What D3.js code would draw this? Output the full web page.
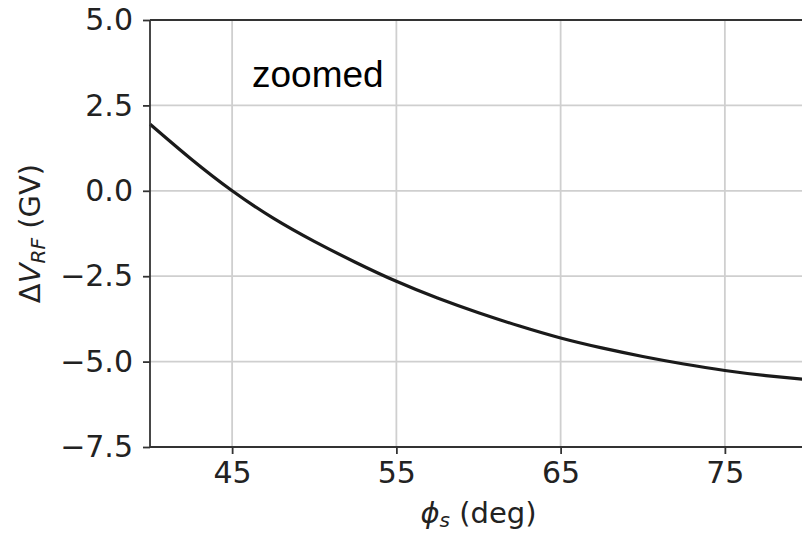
<!DOCTYPE html>
<html>
<head>
<meta charset="utf-8">
<script src="https://cdn.jsdelivr.net/npm/d3@7"></script>
<style>
  html, body { margin: 0; padding: 0; background: #fff; overflow: hidden; }
  svg { display: block; }
  .tick text { font-family: "DejaVu Sans", sans-serif; font-size: 30px; fill: #222; }
</style>
</head>
<body>
<svg id="chart" width="802" height="533"></svg>
<script>
// Synchronous-phase scan: change in RF voltage versus phase
const phiDeg = [40, 42.5, 45, 47.5, 50, 52.5, 55, 57.5, 60, 62.5, 65, 67.5, 70, 72.5, 75, 77.5, 80];
const deltaV = [1.95, 0.93, 0.0, -0.8, -1.48, -2.09, -2.65, -3.14, -3.57, -3.96, -4.31, -4.6, -4.85, -5.07, -5.26, -5.41, -5.53];
const xTicks = [45, 55, 65, 75];
const yTicks = [5.0, 2.5, 0.0, -2.5, -5.0, -7.5];

const svg = d3.select("#chart");
const plotL = 150, plotR = 807, plotT = 20, plotB = 447;

const x = d3.scaleLinear().domain([40, 80]).range([plotL, plotR]);
const y = d3.scaleLinear().domain([-7.5, 5.0]).range([plotB, plotT]);

// grid
const grid = svg.append("g").attr("stroke", "#cfcfcf").attr("stroke-width", 1.8);
grid.selectAll("line.gx").data(xTicks).join("line")
  .attr("x1", d => x(d)).attr("x2", d => x(d)).attr("y1", plotT).attr("y2", plotB);
grid.selectAll("line.gy").data(yTicks).join("line")
  .attr("x1", plotL).attr("x2", plotR).attr("y1", d => y(d)).attr("y2", d => y(d));

// curve
const line = d3.line().x((d, i) => x(phiDeg[i])).y(d => y(d)).curve(d3.curveNatural);
svg.append("path").datum(deltaV)
  .attr("d", line).attr("fill", "none").attr("stroke", "#1a1a1a").attr("stroke-width", 3.2);

// axes
const xAxis = d3.axisBottom(x).tickValues(xTicks).tickSize(7).tickPadding(8).tickFormat(d3.format("d"));
const yAxis = d3.axisLeft(y).tickValues(yTicks).tickSize(7).tickPadding(10)
  .tickFormat(d => d3.format(".1f")(d).replace("-", "\u2212"));

const gx = svg.append("g").attr("transform", `translate(0,${plotB})`).call(xAxis);
const gy = svg.append("g").attr("transform", `translate(${plotL},0)`).call(yAxis);
[gx, gy].forEach(g => {
  g.select(".domain").remove();
  g.selectAll(".tick line").attr("stroke", "#333").attr("stroke-width", 1.8);
});

// spines (left, top, bottom)
const spines = svg.append("g").attr("stroke", "#333").attr("stroke-width", 1.8).attr("fill", "none");
spines.append("line").attr("x1", plotL).attr("x2", plotL).attr("y1", plotT).attr("y2", plotB);
spines.append("line").attr("x1", plotL).attr("x2", plotR).attr("y1", plotT).attr("y2", plotT);
spines.append("line").attr("x1", plotL).attr("x2", plotR).attr("y1", plotB).attr("y2", plotB);

// axis labels
const xl = svg.append("text")
  .attr("x", (plotL + plotR) / 2).attr("y", 523)
  .attr("text-anchor", "middle")
  .style("font-family", "DejaVu Sans, sans-serif").style("font-size", "29px").attr("fill", "#222");
xl.append("tspan").attr("font-style", "italic").text("\u03d5");
xl.append("tspan").attr("font-style", "italic").attr("font-size", "20px").attr("dy", 4).text("s");
xl.append("tspan").attr("dy", -4).text(" (deg)");

const yl = svg.append("text")
  .attr("transform", `translate(40,${(plotT + plotB) / 2}) rotate(-90)`)
  .attr("text-anchor", "middle")
  .style("font-family", "DejaVu Sans, sans-serif").style("font-size", "29px").attr("fill", "#222");
yl.append("tspan").text("\u0394");
yl.append("tspan").attr("font-style", "italic").text("V");
yl.append("tspan").attr("font-style", "italic").attr("font-size", "20px").attr("dy", 5).text("RF");
yl.append("tspan").attr("dy", -5).text(" (GV)");

// annotation
svg.append("text").attr("x", 252).attr("y", 87)
  .style("font-family", "Liberation Sans, Arial, sans-serif").style("font-size", "37px")
  .attr("fill", "#000").text("zoomed");
</script>
</body>
</html>
